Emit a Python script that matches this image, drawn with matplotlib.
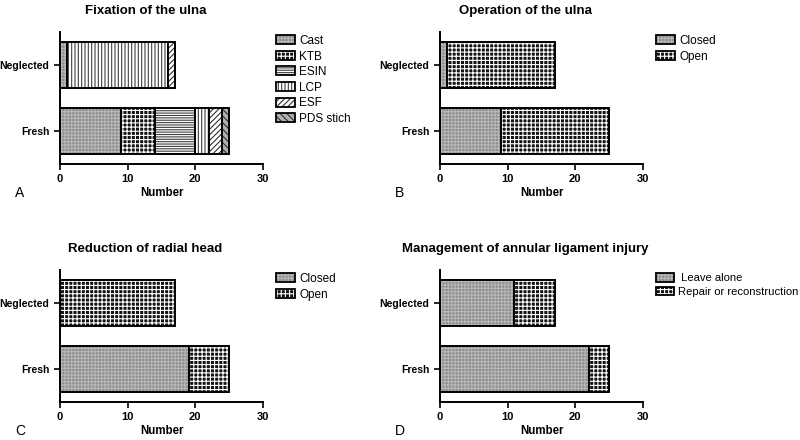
import matplotlib
matplotlib.use("Agg")
import matplotlib.pyplot as plt
from matplotlib.patches import Patch

plt.rcParams['font.family'] = ['Liberation Sans', 'DejaVu Sans']
plt.rcParams['hatch.linewidth'] = 0.8

groups = ["Fresh", "Neglected"]

# Panel A: Fixation of the ulna
fix_labels = ["Cast", "KTB", "ESIN", "LCP", "ESF", "PDS stich"]
fix_fresh = [9, 5, 6, 2, 2, 1]
fix_neglected = [1, 0, 0, 15, 1, 0]

# Panel B: Operation of the ulna
op_labels = ["Closed", "Open"]
op_fresh = [9, 16]
op_neglected = [1, 16]

# Panel C: Reduction of radial head
red_labels = ["Closed", "Open"]
red_fresh = [19, 6]
red_neglected = [0, 17]

# Panel D: Management of annular ligament injury
man_labels = [" Leave alone", "Repair or reconstruction"]
man_fresh = [22, 3]
man_neglected = [11, 6]

titles = ["Fixation of the ulna", "Operation of the ulna",
          "Reduction of radial head", "Management of annular ligament injury"]
letters = ["A", "B", "C", "D"]
xticks = [0, 10, 20, 30]

# (face colour, hatch colour, hatch)
GRAY = ("#8c8c8c", "#b8b8b8", "+++++")
CHECK = ("#141414", "white", "++++")
styles_fix = [
    GRAY,                                # Cast
    CHECK,                               # KTB
    ("white", "#404040", "-------"),     # ESIN
    ("white", "#404040", "|||||"),       # LCP
    ("white", "#303030", "//////"),      # ESF
    ("#b0b0b0", "#303030", "\\\\\\\\\\"),  # PDS stich
]
styles_two = [GRAY, CHECK]

fig = plt.figure(figsize=(8, 4.4), dpi=100)

W, H = 800.0, 440.0
panels = [
    (60, 32, fix_labels, fix_fresh, fix_neglected, styles_fix, 276, 8.5),
    (440, 32, op_labels, op_fresh, op_neglected, styles_two, 656, 8.5),
    (60, 270, red_labels, red_fresh, red_neglected, styles_two, 276, 8.5),
    (440, 270, man_labels, man_fresh, man_neglected, styles_two, 656, 8.1),
]
ax_w, ax_h = 203, 132

for i, (x0, y0, labels, fresh, negl, styles, legx, lfs) in enumerate(panels):
    ax = fig.add_axes([x0 / W, 1 - (y0 + ax_h) / H, ax_w / W, ax_h / H])
    left_f = 0
    left_n = 0
    handles = []
    for lab, vf, vn, (fc, hc, hatch) in zip(labels, fresh, negl, styles):
        ax.barh([0, 1], [vf, vn], left=[left_f, left_n], height=0.69,
                facecolor=fc, edgecolor=hc, hatch=hatch, linewidth=0)
        ax.barh([0, 1], [vf, vn], left=[left_f, left_n], height=0.69,
                fill=False, edgecolor="black", linewidth=1.4)
        left_f += vf
        left_n += vn
        h1 = Patch(facecolor=fc, edgecolor=hc, hatch=hatch, linewidth=0)
        h2 = Patch(fill=False, edgecolor="black", linewidth=1.3)
        handles.append((h1, h2))
    ax.set_xlim(0, 30)
    ax.set_ylim(-0.5, 1.5)
    ax.set_xticks(xticks)
    ax.set_yticks([0, 1])
    ax.set_yticklabels(groups)
    for sp in ["top", "right"]:
        ax.spines[sp].set_visible(False)
    for sp in ["left", "bottom"]:
        ax.spines[sp].set_linewidth(1.4)
    ax.tick_params(axis="y", direction="out", length=4, width=1.2,
                   labelsize=7.5)
    ax.tick_params(axis="x", direction="out", length=4, width=1.2,
                   labelsize=8)
    for t in ax.get_xticklabels() + ax.get_yticklabels():
        t.set_fontweight("bold")
    ax.set_xlabel("Number", fontsize=8.3, fontweight="bold", labelpad=1.5)
    cx = (x0 + ax_w / 2 - 16) / W
    fig.text(cx, 1 - (y0 - 21) / H, titles[i], ha="center", va="center",
             fontsize=9.5, fontweight="bold")
    fig.text((x0 - 45) / W, 1 - (y0 + 161) / H, letters[i], ha="left",
             va="center", fontsize=10)
    fig.legend(handles=handles, labels=labels, loc="upper left",
               bbox_to_anchor=(legx / W, 1 - (y0 + 3) / H),
               frameon=False, fontsize=lfs, handlelength=1.6,
               handleheight=0.8, handletextpad=0.35, labelspacing=0.3,
               borderaxespad=0, borderpad=0)

fig.savefig("out.png", dpi=100, facecolor="white")
